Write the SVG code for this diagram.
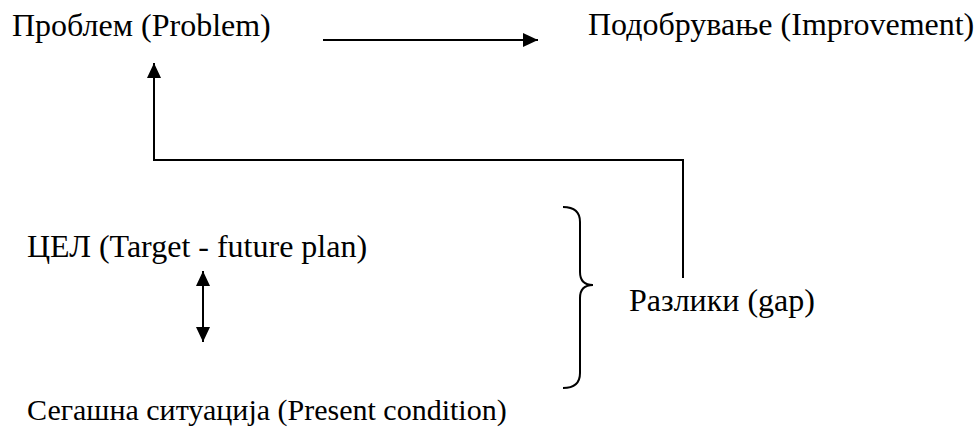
<svg xmlns="http://www.w3.org/2000/svg" width="978" height="427" viewBox="0 0 978 427">
  <style>
    text { font-family: "Liberation Serif", "Times New Roman", serif; font-size: 32px; fill: #000; }
    .small { font-size: 30px; }
    .line { stroke: #000; stroke-width: 2; fill: none; }
  </style>
  <defs>
    <marker id="head" viewBox="0 0 15 14" refX="15" refY="7" markerWidth="15" markerHeight="14" markerUnits="userSpaceOnUse" orient="auto-start-reverse">
      <path d="M0,0 L15,7 L0,14 Z" fill="#000"/>
    </marker>
  </defs>

  <g id="problem"><text x="12" y="36">Проблем (Problem)</text></g>
  <g id="improvement"><text x="588" y="35">Подобрување (Improvement)</text></g>
  <g id="target"><text x="27" y="257">ЦЕЛ (Target - future plan)</text></g>
  <g id="present"><text class="small" x="27" y="420">Сегашна ситуација (Present condition)</text></g>
  <g id="gap"><text x="629" y="311">Разлики (gap)</text></g>

  <g id="connectors">
    <line class="line" x1="323" y1="40" x2="538" y2="40" marker-end="url(#head)"/>
    <polyline class="line" points="683,278 683,160 154,160 154,63" marker-end="url(#head)"/>
    <line class="line" x1="203" y1="271" x2="203" y2="342" marker-start="url(#head)" marker-end="url(#head)"/>
    <path class="line" d="M563,207 C575,207 580,212 580,222 L580,272 C580,281 584,285 593,285 C584,285 580,289 580,298 L580,373 C580,383 575,388 563,388"/>
  </g>
</svg>
